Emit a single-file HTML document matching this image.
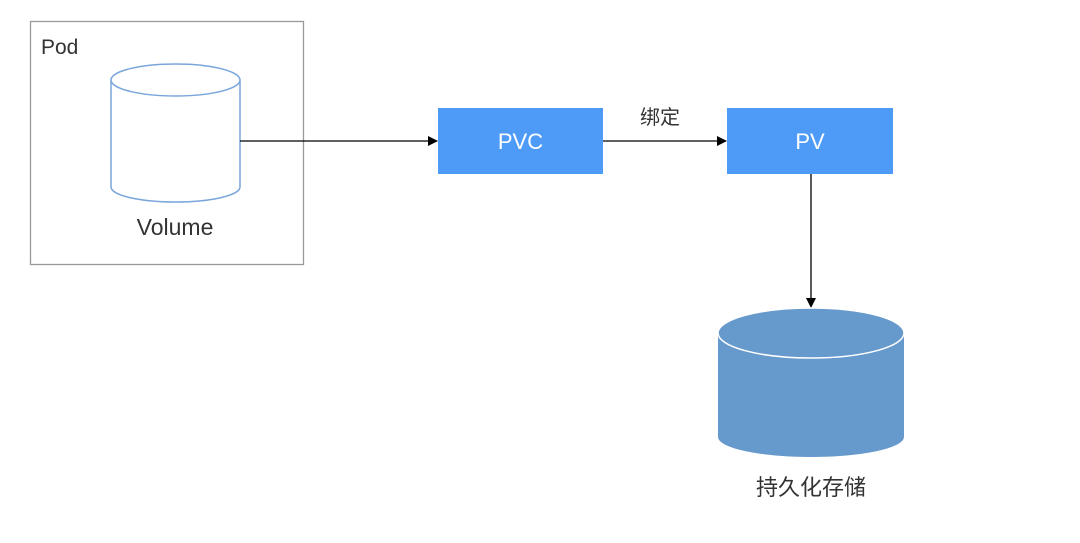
<!DOCTYPE html>
<html><head><meta charset="utf-8"><style>
html,body{margin:0;padding:0;background:#fff;}
</style></head><body>
<svg width="1080" height="538" viewBox="0 0 1080 538" xmlns="http://www.w3.org/2000/svg" font-family="Liberation Sans, Noto Sans CJK SC, sans-serif">
<defs><marker id="a" markerWidth="10" markerHeight="10" refX="9" refY="5" orient="auto" markerUnits="userSpaceOnUse"><path d="M0,0 L10,5 L0,10 z" fill="#000"/></marker></defs>
<rect x="30.5" y="21.5" width="273" height="243" fill="#fff" stroke="#999" stroke-width="1.3"/>
<text x="41" y="54" font-size="21" fill="#333">Pod</text>
<path d="M111,80 L111,187 A64.5,15 0 0 0 240,187 L240,80" fill="#fff" stroke="#7aa6dc" stroke-width="1.5"/>
<ellipse cx="175.5" cy="80" rx="64.5" ry="16" fill="#fff" stroke="#7aa6dc" stroke-width="1.5"/>
<text x="175" y="235" font-size="23" fill="#333" text-anchor="middle">Volume</text>
<line x1="240" y1="141" x2="437" y2="141" stroke="#000" stroke-width="1.3" marker-end="url(#a)"/>
<rect x="438" y="108" width="165" height="66" fill="#4e9bf7"/>
<text x="520.5" y="149" font-size="22" fill="#fff" text-anchor="middle">PVC</text>
<line x1="603" y1="141" x2="726" y2="141" stroke="#000" stroke-width="1.3" marker-end="url(#a)"/>
<text x="660" y="124" font-size="20" fill="#333" text-anchor="middle">绑定</text>
<rect x="727" y="108" width="166" height="66" fill="#4e9bf7"/>
<text x="810" y="149" font-size="22" fill="#fff" text-anchor="middle">PV</text>
<line x1="811" y1="174" x2="811" y2="307" stroke="#000" stroke-width="1.3" marker-end="url(#a)"/>
<path d="M718,333 L718,437 A93,20 0 0 0 904,437 L904,333" fill="#6699cc"/>
<ellipse cx="811" cy="333" rx="93" ry="25" fill="#6699cc" stroke="#fff" stroke-width="1.5"/>
<text x="811" y="495" font-size="22" fill="#333" text-anchor="middle">持久化存储</text>
</svg>
</body></html>
